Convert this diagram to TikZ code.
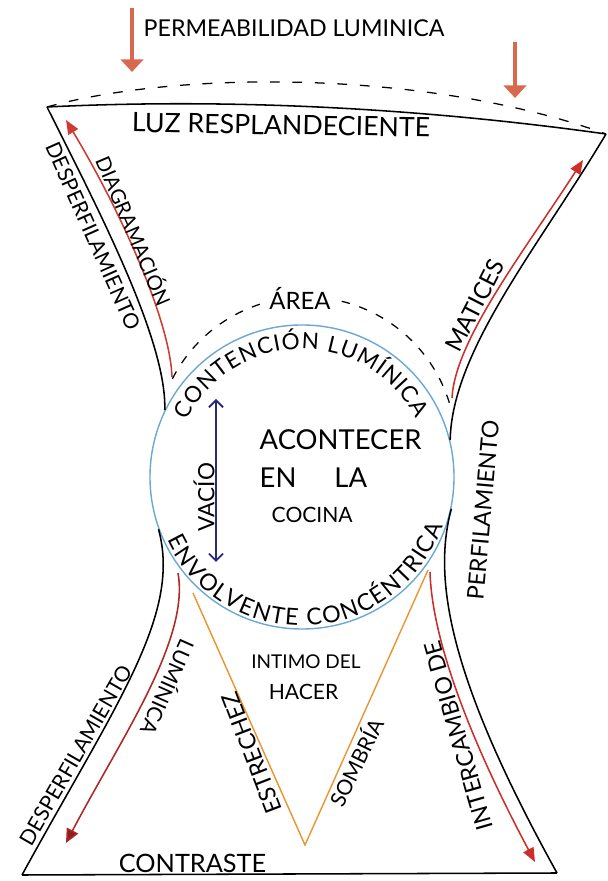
\documentclass[tikz,border=0pt]{standalone}
\usepackage{fontspec}
\setmainfont{Lato}
\usepackage{tikz}
\usetikzlibrary{arrows.meta, decorations.text}
\definecolor{luz}{HTML}{D9694E}
\definecolor{rojo}{HTML}{CC2E2A}
\definecolor{vino}{HTML}{8E1E1E}
\definecolor{celeste}{HTML}{6AA8D6}
\definecolor{marino}{HTML}{2B2A7A}
\definecolor{naranja}{HTML}{E8962F}

\begin{document}
\begin{tikzpicture}[
    font=\fontsize{15}{17}\selectfont,
    borde/.style={black, line width=1.1pt},
    guia/.style={black, line width=0.9pt, dash pattern=on 7pt off 9pt},
    flecha/.style={rojo, line width=1.1pt, -{Triangle[length=10pt, width=8pt]}},
    baja/.style={luz, line width=3.5pt, -{Triangle[length=9pt, width=16pt]}},
    vee/.style={naranja, line width=1pt},
    lbl/.style={inner sep=1pt},
    ronda/.style={decorate, decoration={text along path, text align=fit to path, text={#1}}},
  ]
  \useasboundingbox (0,0) rectangle (15.175,22.025);

  % Circle of the kitchen
  \node[circle, draw=celeste, line width=1pt, minimum size=7.6cm, inner sep=0pt] (cocina) at (7.55,10.1) {};

  % Corners of the hourglass
  \coordinate (tl) at (1.175,19.35);
  \coordinate (tr) at (15.15,18.675);
  \coordinate (bl) at (0.55,0.15);
  \coordinate (br) at (13.925,0.2);

  % Outline
  \draw[borde] (tl) .. controls (5.75,19.575) and (10.5,19.325) .. (tr);
  \draw[guia] (tl) .. controls (4.5,20.275) and (10.75,20.275) .. (tr);
  \draw[borde] (tl) .. controls (2.425,16.85) and (4.175,13.525) .. (cocina.154);
  \draw[borde] (tr) .. controls (13.5,15.9) and (11.3,13.275) .. (cocina.14);
  \draw[borde] (cocina.200) .. controls (4.55,6.65) and (2.875,4.4) .. (bl);
  \draw[borde] (cocina.348) .. controls (10.8,7.525) and (11.25,5.025) .. (br);
  \draw[borde] (bl) -- (br);

  % Light arrows on top
  \coordinate (p1) at (3.3,21.825);  \coordinate (p1e) at (3.3,20.225);
  \coordinate (p2) at (12.875,20.975); \coordinate (p2e) at (12.875,19.575);
  \draw[baja] (p1) -- (p1e);
  \draw[baja] (p2) -- (p2e);
  \node[lbl, font=\fontsize{16.5}{18}\selectfont] (perm) at (7.35,21.325) {PERMEABILIDAD LUMINICA};
  \node[lbl, font=\fontsize{19}{21}\selectfont, rotate=-1] (luz) at (7.025,18.9) {LUZ RESPLANDECIENTE};

  % Red arrows along the sides
  \coordinate (a1) at (4.3,12.6);    \coordinate (a1e) at (1.65,19.025);
  \coordinate (a2) at (11.3,12.075); \coordinate (a2e) at (14.575,18.025);
  \coordinate (a3) at (4.45,7.7);    \coordinate (a3e) at (1.65,0.95);
  \coordinate (a4) at (10.75,7.725); \coordinate (a4e) at (13.375,0.475);
  \draw[flecha, rojo!80!luz] (a1) .. controls (4.25,14.025) and (3.0,16.775) .. (a1e);
  \draw[flecha] (a2) .. controls (11.375,13.525) and (13.125,15.775) .. (a2e);
  \draw[flecha, rojo!85!black, -{Triangle[length=10pt, width=9pt, fill=vino]}] (a3) .. controls (4.75,6.025) and (3.0,3.525) .. (a3e);
  \draw[flecha] (a4) .. controls (10.8,6.025) and (11.75,3.525) .. (a4e);

  % Labels along the sides
  \node[lbl, rotate=-66] (desp1) at (2.325,16.125) {DESPERFILAMIENTO};
  \node[lbl, rotate=-67, font=\fontsize{14.5}{16}\selectfont] (diag) at (3.37,16.27) {DIAGRAMACIÓN};
  \node[lbl, rotate=63, font=\fontsize{17}{19}\selectfont] (mat) at (11.875,14.39) {MATICES};
  \node[lbl, rotate=85, font=\fontsize{16.5}{18}\selectfont] (perf) at (12.075,9.275) {PERFILAMIENTO};
  \node[lbl, rotate=60] (desp2) at (1.89,3.14) {DESPERFILAMIENTO};
  \node[lbl, rotate=-114] (lum) at (4.225,4.825) {LUMÍNICA};
  \node[lbl, rotate=106, font=\fontsize{16.5}{18}\selectfont] (inter) at (11.46,3.63) {INTERCAMBIO DE};
  \node[lbl, font=\fontsize{18}{20}\selectfont] (contr) at (4.8125,0.45) {CONTRASTE};

  % Area arc
  \coordinate (area) at (7.65,10.85);
  \draw[guia, dash pattern=on 6pt off 7pt] ([shift={(area)}]153:3.75) arc[start angle=153, end angle=14, radius=3.75];
  \node[lbl, fill=white, inner sep=3pt, font=\fontsize{17}{19}\selectfont] (are) at (7.5,14.575) {ÁREA};

  % Text round the circle
  \path[ronda={|\fontsize{16}{18}\selectfont|CONTENCI{Ó}N LUM{Í}NICA}]
    ([shift={(cocina.center)}]154:3.2) arc[start angle=154, end angle=27, radius=3.2];
  \path[ronda={|\fontsize{16.5}{18}\selectfont|ENVOLVENTE CONC{É}NTRICA}]
    ([shift={(cocina.center)}]205:3.72) arc[start angle=205, end angle=341, radius=3.72];

  % Inside the circle
  \node[lbl, anchor=west, font=\fontsize{19.5}{22}\selectfont] (acon) at (6.45,11.025) {ACONTECER};
  \node[lbl, anchor=west, font=\fontsize{19.5}{22}\selectfont] (enla) at (6.45,10.075) {EN\hspace{0.95cm}LA};
  \node[lbl, anchor=west, font=\fontsize{15}{17}\selectfont] (coc) at (6.75,9.15) {COCINA};
  \coordinate (v1) at (5.4,12.05); \coordinate (v2) at (5.4,7.975);
  \draw[marino, line width=1.3pt, {Straight Barb[length=5pt, width=10pt]}-{Straight Barb[length=5pt, width=10pt]}] (v1) -- (v2);
  \node[lbl, rotate=90, font=\fontsize{16}{18}\selectfont] (vacio) at (5.1,9.6) {VACÍO};

  % Orange wedge below
  \coordinate (o1) at (4.825,7.2);
  \coordinate (o2) at (7.625,0.9);
  \coordinate (o3) at (10.7,7.775);
  \draw[vee] (o1) -- (o2) -- (o3);
  \node[lbl, rotate=111, font=\fontsize{16.5}{18}\selectfont] (estr) at (6.3,3.2) {ESTRECHEZ};
  \node[lbl, rotate=64] (somb) at (8.875,2.975) {SOMBRÍA};
  \node[lbl, font=\fontsize{13.5}{15}\selectfont] (intimo) at (7.65,5.475) {INTIMO DEL};
  \node[lbl, font=\fontsize{15}{17}\selectfont] (hacer) at (7.5875,4.725) {HACER};
\end{tikzpicture}
\end{document}
